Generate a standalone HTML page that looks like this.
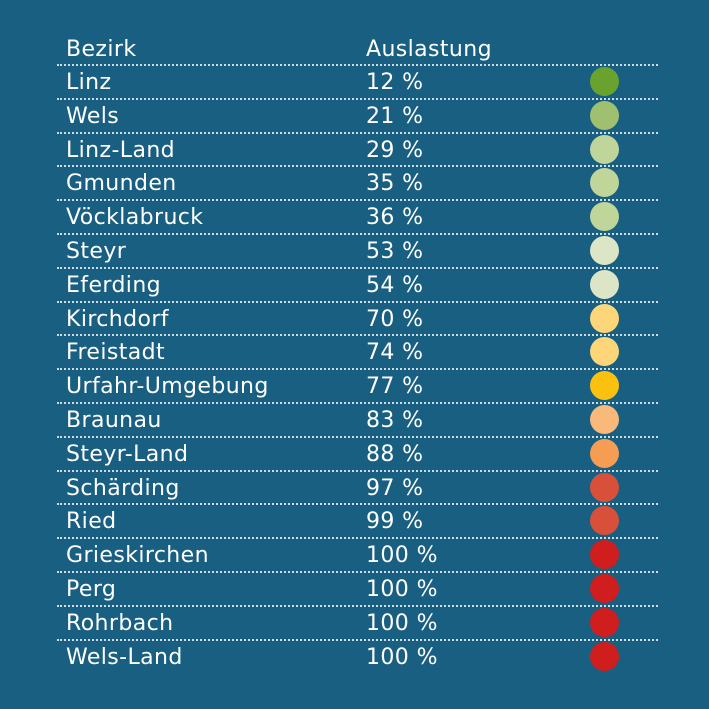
<!DOCTYPE html>
<html><head><style>
body{margin:0;width:709px;height:709px;background:#195f82;position:relative;overflow:hidden;font-family:"DejaVu Sans","Liberation Sans",sans-serif;color:#fff}
.t{position:absolute;font-size:22px;line-height:34px;letter-spacing:0.4px}
.l{position:absolute;left:57px;width:601px;border-top:2px dotted #d0dde6}
.c{position:absolute;left:590px;width:29px;height:29px;border-radius:50%}
</style></head><body>
<div class="t" style="left:66px;top:33px">Bezirk</div>
<div class="t" style="left:366px;top:33px">Auslastung</div>
<div id="r"></div>
<script>
var d=[["Linz","12","#6aa22e"],["Wels","21","#9fc06e"],["Linz-Land","29","#bfd59a"],["Gmunden","35","#bfd59a"],["Vöcklabruck","36","#bfd59a"],["Steyr","53","#dce6c6"],["Eferding","54","#dce6c6"],["Kirchdorf","70","#fdd67a"],["Freistadt","74","#fdd67a"],["Urfahr-Umgebung","77","#fcc10f"],["Braunau","83","#f9b97a"],["Steyr-Land","88","#f59d52"],["Schärding","97","#d9503a"],["Ried","99","#d9503a"],["Grieskirchen","100","#d01d1d"],["Perg","100","#d01d1d"],["Rohrbach","100","#d01d1d"],["Wels-Land","100","#d01d1d"]];
var h="";
for(var i=0;i<d.length;i++){var y=64+i*33.8;
h+='<div class="l" style="top:'+y+'px"></div>';
h+='<div class="t" style="left:66px;top:'+(y+2)+'px">'+d[i][0]+'</div>';
h+='<div class="t" style="left:366px;top:'+(y+2)+'px">'+d[i][1]+' %</div>';
h+='<div class="c" style="top:'+(y+3)+'px;background:'+d[i][2]+'"></div>';}
document.getElementById("r").innerHTML=h;
</script>
</body></html>
